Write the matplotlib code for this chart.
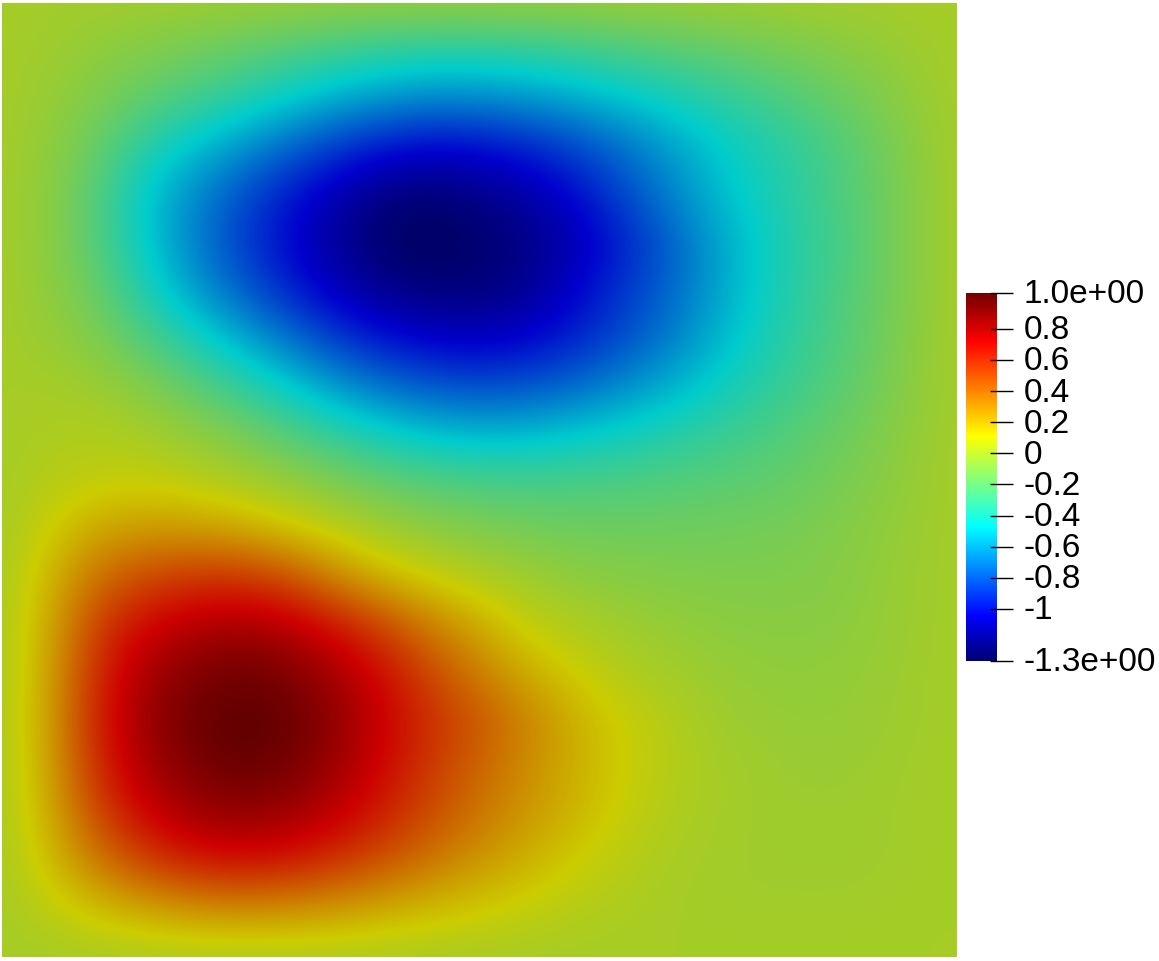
import numpy as np
import matplotlib
matplotlib.use("Agg")
import matplotlib.pyplot as plt
from matplotlib.colors import LinearSegmentedColormap, Normalize
from matplotlib.cm import ScalarMappable
from matplotlib.transforms import ScaledTranslation

# field values on an even 21 x 21 grid, top row first
row00 = [0, -.01, -.01, -.02, -.02, -.03, -.03, -.04, -.04, -.04, -.04, -.04, -.04, -.03, -.03, -.02, -.02, -.01, -.01, 0, 0]
row01 = [0, -.02, -.06, -.10, -.14, -.19, -.25, -.30, -.34, -.36, -.36, -.34, -.31, -.27, -.23, -.19, -.15, -.11, -.07, -.03, 0]
row02 = [0, -.04, -.11, -.20, -.28, -.37, -.46, -.55, -.62, -.66, -.65, -.62, -.56, -.49, -.42, -.35, -.28, -.21, -.14, -.06, 0]
row03 = [0, -.06, -.18, -.36, -.50, -.62, -.75, -.88, -.98, -1.03, -1.01, -.95, -.85, -.73, -.60, -.48, -.39, -.30, -.20, -.09, 0]
row04 = [0, -.07, -.24, -.48, -.65, -.82, -.98, -1.12, -1.24, -1.27, -1.22, -1.14, -1.02, -.85, -.68, -.52, -.41, -.31, -.21, -.10, 0]
row05 = [0, -.07, -.24, -.47, -.68, -.87, -1.03, -1.18, -1.30, -1.33, -1.29, -1.23, -1.12, -.96, -.78, -.59, -.44, -.33, -.22, -.10, 0]
row06 = [0, -.06, -.18, -.40, -.60, -.78, -.95, -1.10, -1.21, -1.26, -1.26, -1.20, -1.05, -.90, -.76, -.59, -.43, -.32, -.21, -.10, 0]
row07 = [0, -.04, -.11, -.25, -.41, -.57, -.73, -.89, -1.00, -1.07, -1.09, -1.05, -.96, -.84, -.70, -.54, -.41, -.30, -.20, -.09, 0]
row08 = [0, 0, -.03, -.10, -.21, -.34, -.48, -.62, -.74, -.81, -.84, -.82, -.76, -.66, -.56, -.45, -.35, -.27, -.18, -.08, 0]
row09 = [0, .02, .03, 0, -.06, -.13, -.24, -.35, -.44, -.51, -.54, -.53, -.49, -.44, -.38, -.32, -.27, -.20, -.14, -.06, 0]
row10 = [0, .04, .07, .08, .05, 0, -.05, -.12, -.19, -.24, -.27, -.28, -.27, -.26, -.24, -.22, -.20, -.16, -.11, -.05, 0]
row11 = [0, .10, .22, .25, .24, .20, .12, .05, -.02, -.07, -.11, -.14, -.16, -.16, -.16, -.15, -.14, -.12, -.08, -.04, 0]
row12 = [0, .17, .38, .49, .55, .55, .47, .30, .16, .08, .02, -.02, -.07, -.09, -.10, -.11, -.11, -.10, -.07, -.03, 0]
row13 = [0, .21, .53, .70, .78, .82, .77, .65, .50, .33, .20, .07, .02, -.02, -.05, -.07, -.08, -.08, -.06, -.03, 0]
row14 = [0, .23, .60, .82, .92, .97, .93, .82, .68, .50, .34, .20, .10, .03, -.01, -.04, -.06, -.06, -.05, -.02, 0]
row15 = [0, .24, .63, .86, .98, 1.03, 1.00, .88, .73, .58, .46, .33, .20, .10, .04, -.02, -.04, -.05, -.04, -.02, 0]
row16 = [0, .23, .60, .82, .94, 1.00, .96, .85, .70, .55, .42, .30, .20, .11, .04, 0, -.02, -.04, -.03, -.01, 0]
row17 = [0, .20, .51, .72, .84, .88, .85, .76, .63, .49, .37, .27, .18, .09, .03, 0, -.02, -.02, -.02, -.01, 0]
row18 = [0, .15, .36, .53, .64, .68, .65, .57, .47, .37, .27, .19, .11, .05, .01, -.01, -.02, -.02, -.02, -.01, 0]
row19 = [0, .06, .15, .22, .28, .30, .29, .26, .21, .16, .12, .08, .04, .02, 0, -.01, -.01, -.01, -.01, 0, 0]
row20 = [0] * 21

# colour bar range and labels
vmin = -1.335
vmax = 1.03
tick_values = [1.03, 0.8, 0.6, 0.4, 0.2, 0, -0.2, -0.4, -0.6, -0.8, -1, -1.335]
tick_labels = ['1.0e+00', '0.8', '0.6', '0.4', '0.2', '0', '-0.2', '-0.4', '-0.6', '-0.8', '-1', '-1.3e+00']

field = np.array([row00, row01, row02, row03, row04, row05, row06, row07, row08, row09, row10,
                  row11, row12, row13, row14, row15, row16, row17, row18, row19, row20])

W, H = 1159, 962
plt.rcParams['font.family'] = ['Liberation Sans', 'DejaVu Sans']

stops = [(0.0, (0, 0, 0.45)), (0.122, (0, 0, 1)), (0.364, (0, 1, 1)), (0.488, (0.5, 1, 0.5)),
         (0.611, (1, 1, 0)), (0.87, (1, 0, 0)), (1.0, (0.45, 0, 0))]
cmap = LinearSegmentedColormap.from_list('bar', stops, N=512)
# the surface is lit, so it is a bit darker than the bar
shade = 0.8
cmap_lit = LinearSegmentedColormap.from_list('lit', [(p, tuple(shade * c for c in col)) for p, col in stops], N=512)
norm = Normalize(vmin, vmax)

fig = plt.figure(figsize=(W / 100, H / 100), dpi=100)

ax = fig.add_axes([2 / W, (H - 958) / H, 954 / W, 954 / H])
half = 0.025
ax.imshow(field, cmap=cmap_lit, norm=norm, origin='upper', aspect='auto',
          interpolation='bicubic', interpolation_stage='data',
          extent=(-half, 1 + half, -half, 1 + half))
ax.set_xlim(0, 1)
ax.set_ylim(0, 1)
ax.axis('off')

cax = fig.add_axes([966 / W, (H - 662) / H, 31 / W, 368 / H])
cb = fig.colorbar(ScalarMappable(norm=norm, cmap=cmap), cax=cax)
cb.outline.set_visible(False)
cb.set_ticks(tick_values, labels=tick_labels)
cb.minorticks_off()
cax.tick_params(length=0, pad=19.4, labelsize=24)
cax.hlines(tick_values, 0.774, 1.516, colors='black', linewidth=1,
           transform=cax.get_yaxis_transform(), clip_on=False)
for lab in cax.get_yticklabels():
    lab.set_transform(lab.get_transform() + ScaledTranslation(0, 2.5 / 100, fig.dpi_scale_trans))

fig.savefig('out.png', dpi=100)
